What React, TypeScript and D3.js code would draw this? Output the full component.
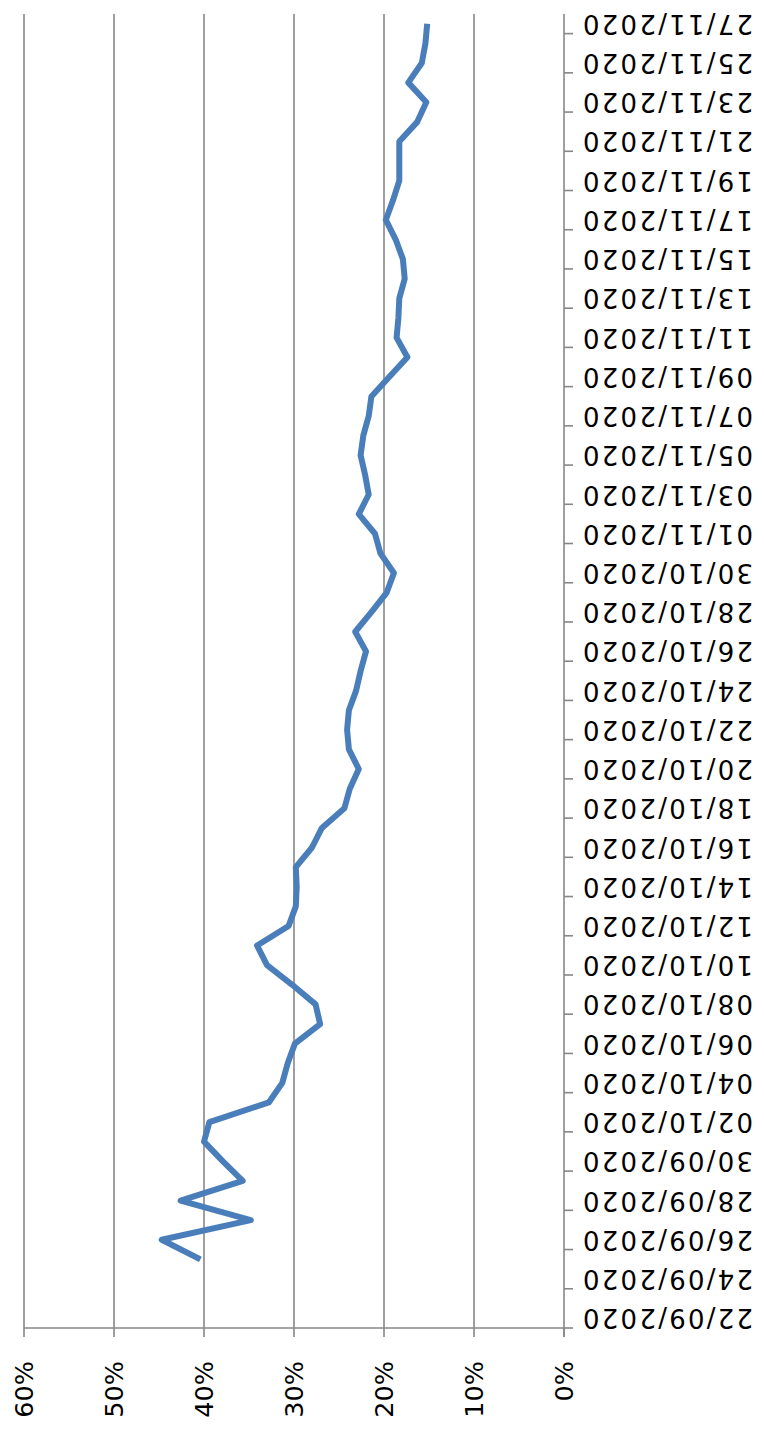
import React from "react";
import * as d3 from "d3";

const W = 764;
const H = 1429;

// Categories: one per day, 22/09/2020 .. 27/11/2020
const fmt = d3.timeFormat("%d/%m/%Y");
const categories: string[] = d3
  .timeDay.range(new Date(2020, 8, 22), new Date(2020, 10, 28))
  .map((d) => fmt(d));

// Series values (percent), null = no data
const values: (number | null)[] = [
  null, null, null, 40.4, 44.7, 34.8, 42.6, 35.7, 37.9, 40.0,
  39.4, 32.8, 31.3, 30.7, 29.9, 27.1, 27.6, 30.2, 33.0, 34.1,
  30.6, 29.8, 29.7, 29.8, 28.0, 26.9, 24.4, 23.8, 22.8, 23.9,
  24.1, 23.9, 23.1, 22.6, 22.0, 23.2, 21.4, 19.7, 18.9, 20.4,
  21.0, 22.8, 21.7, 22.1, 22.6, 22.3, 21.7, 21.4, 19.4, 17.4,
  18.6, 18.4, 18.3, 17.7, 17.9, 18.7, 19.8, 19.0, 18.3, 18.3,
  18.3, 16.3, 15.3, 17.3, 15.8, 15.4, 15.2,
];

const pctTicks = [0, 10, 20, 30, 40, 50, 60];
const pctLabels = ["0%", "10%", "20%", "30%", "40%", "50%", "60%"];

export default function App() {
  const plotLeft = 24;
  const plotRight = 564;
  const plotTop = 14;
  const plotBottom = 1328;

  const x = d3.scaleLinear().domain([0, 60]).range([plotRight, plotLeft]);
  const y = d3.scaleBand<string>().domain(categories).range([plotBottom, plotTop]).padding(0);
  const bw = y.bandwidth();
  const yc = (c: string) => (y(c) as number) + bw / 2;

  const pts = categories.map((c, i) => ({ c, v: values[i] }));
  const line = d3
    .line<{ c: string; v: number | null }>()
    .defined((d) => d.v !== null)
    .x((d) => x(d.v as number))
    .y((d) => yc(d.c));

  // tick boundaries every 2 categories
  const boundaries: number[] = [];
  for (let i = 0; i < categories.length; i += 2) {
    boundaries.push(plotBottom - i * bw);
  }

  const font = "'DejaVu Sans', sans-serif";
  const labelX = 583;
  const pctY = 1361;

  return (
    <svg
      width={W}
      height={H}
      style={{ position: "absolute", left: 0, top: 0, background: "#fff" }}
    >
      <rect x={0} y={0} width={W} height={H} fill="#fff" />
      {/* gridlines */}
      {pctTicks.filter((t) => t > 0).map((t) => (
        <line key={"g" + t} x1={x(t)} x2={x(t)} y1={plotTop} y2={plotBottom} stroke="#878787" strokeWidth={1.6} />
      ))}
      {/* value axis (bottom) */}
      <line x1={plotLeft} x2={plotRight} y1={plotBottom} y2={plotBottom} stroke="#878787" strokeWidth={1.6} />
      {pctTicks.map((t) => (
        <line key={"pt" + t} x1={x(t)} x2={x(t)} y1={plotBottom} y2={plotBottom + 9} stroke="#878787" strokeWidth={1.6} />
      ))}
      {pctTicks.map((t, i) => (
        <text
          key={"pl" + t}
          x={x(t)}
          y={pctY}
          transform={`rotate(-90, ${x(t)}, ${pctY})`}
          textAnchor="end"
          dominantBaseline="central"
          fontFamily={font}
          fontSize={25.5}
          fill="#000"
        >
          {pctLabels[i]}
        </text>
      ))}
      {/* category axis (right) */}
      <line x1={plotRight} x2={plotRight} y1={plotTop} y2={plotBottom + 9} stroke="#878787" strokeWidth={1.6} />
      {boundaries.map((b, i) => (
        <line key={"ct" + i} x1={plotRight} x2={plotRight + 9} y1={b} y2={b} stroke="#878787" strokeWidth={1.6} />
      ))}
      {categories.map((c, i) =>
        i % 2 === 0 ? (
          <text
            key={"cl" + c}
            x={labelX}
            y={yc(c)}
            transform={`rotate(180, ${labelX}, ${yc(c)})`}
            textAnchor="end"
            dominantBaseline="central"
            fontFamily={font}
            fontSize={26}
            textLength={170}
            lengthAdjust="spacing"
            fill="#000"
          >
            {c}
          </text>
        ) : null
      )}
      {/* series line */}
      <path
        d={line(pts) || ""}
        fill="none"
        stroke="#4a7ebb"
        strokeWidth={6}
        strokeLinejoin="round"
        strokeLinecap="butt"
      />
    </svg>
  );
}
